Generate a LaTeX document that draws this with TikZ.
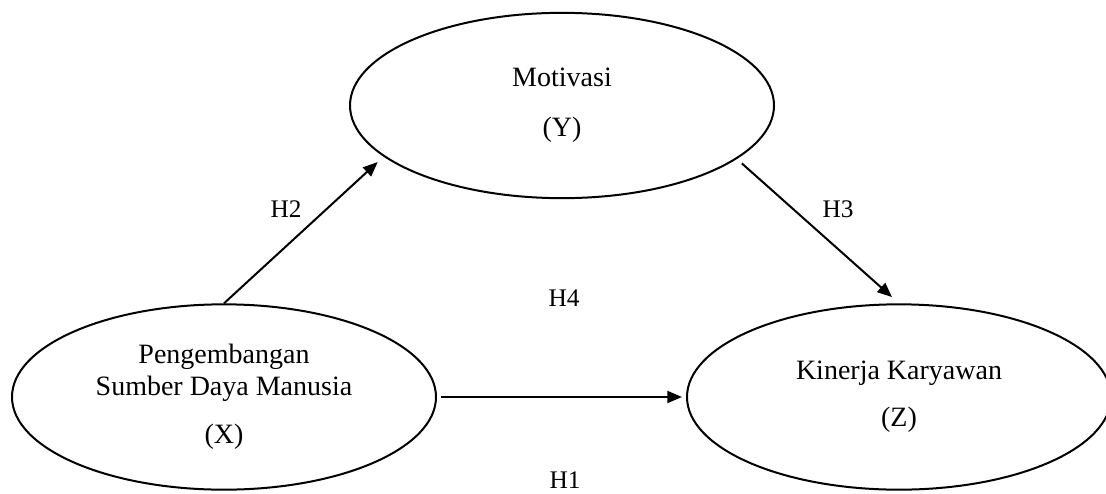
\documentclass[tikz,border=0pt]{standalone}
\usepackage{fontspec}
\setmainfont{Liberation Serif}
\usetikzlibrary{shapes.geometric,arrows.meta}

\tikzset{every picture/.style={line width=1.5pt}}
\tikzset{
  construct/.style={draw, ellipse, minimum width=318pt, minimum height=139pt, inner sep=0pt, align=center, font=\fontsize{21}{23.5}\selectfont},
  hyp/.style={font=\fontsize{19}{22}\selectfont},
  link/.style={-{Triangle[length=11pt,width=9pt]}}
}

\begin{document}
\begin{tikzpicture}[x=0.75pt,y=0.75pt,yscale=-1,xscale=1]
\useasboundingbox (0,0) rectangle (1106,493);

% Text Node
\node [construct] (mot) at (562,105.5) {Motivasi\\[14pt](Y)};
% Text Node
\node [construct] (psdm) at (224,397) {Pengembangan\\Sumber Daya Manusia\\[13pt](X)};
% Text Node
\node [construct] (kin) at (899,397) {Kinerja Karyawan\\[12pt](Z)};

% Connection
\draw [link, shorten >=6pt] (psdm.north) -- (mot.196);
% Connection
\draw [link, shorten <=5pt, shorten >=7pt] (mot.-17) -- (kin.north);
% Connection
\draw [link, shorten <=3pt, shorten >=3pt] (psdm.east) -- (kin.west);

% Text Node
\node [hyp] (h2) at (286,209) {H2};
\node [hyp] (h3) at (838,209) {H3};
\node [hyp] (h4) at (564,298) {H4};
\node [hyp] (h1) at (565,480) {H1};

\end{tikzpicture}
\end{document}
